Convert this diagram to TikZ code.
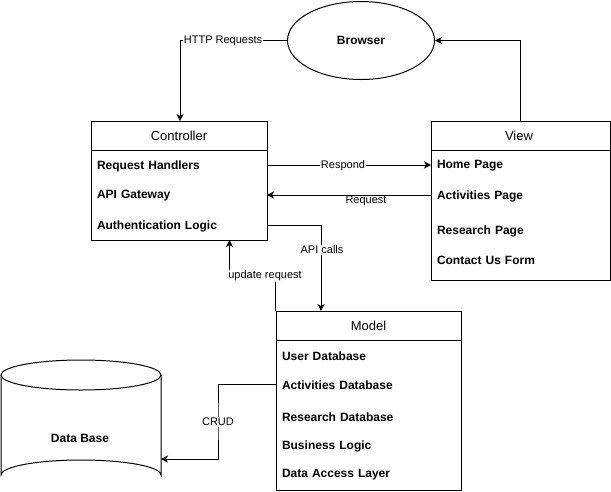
\documentclass[tikz,border=0pt]{standalone}
\usepackage{fontspec}
\setmainfont{Liberation Sans}
\usetikzlibrary{arrows.meta,shapes.geometric}
\tikzset{
  box/.style={draw, line width=1pt, inner sep=0pt, fill=white},
  hdr/.style={font=\fontsize{13}{15}\selectfont, inner sep=0pt},
  itm/.style={font=\bfseries\fontsize{12}{14}\selectfont, text width=#1, align=left, inner xsep=6pt, inner ysep=0pt},
  lbl/.style={font=\fontsize{11}{13}\selectfont, fill=white, inner sep=1pt},
  conn/.style={line width=1pt, -{Stealth[length=7pt,width=7pt,inset=2pt]}},
  sep/.style={line width=1pt},
}
\begin{document}
\begin{tikzpicture}[x=1pt,y=-1pt]
\useasboundingbox (0,0) rectangle (611,491);

% Browser
\node[draw, ellipse, line width=1pt, minimum width=147pt, minimum height=78pt, inner sep=0pt,
      font=\bfseries\fontsize{12}{14}\selectfont] (browser) at (361,40.5) {Browser};

% Controller
\node[box, minimum width=176pt, minimum height=119pt] (ctrl) at (179,180.5) {};
\draw[sep] (91,150) -- (267,150);
\node[hdr] (ctrlh) at (179,135.5) {Controller};
\node[itm=164pt] (rh) at (179,166) {Request Handlers};
\node[itm=164pt] (ag) at (179,196) {API Gateway};
\node[itm=164pt] (al) at (179,226) {Authentication Logic};

% View
\node[box, minimum width=179pt, minimum height=159pt] (view) at (520.5,200.5) {};
\draw[sep] (431,150) -- (610,150);
\node[hdr] (viewh) at (519,135.5) {View};
\node[itm=167pt] (hp) at (520.5,166) {Home Page};
\node[itm=167pt] (ap) at (520.5,196) {Activities Page};
\node[itm=167pt] (rp) at (520.5,231.5) {Research Page};
\node[itm=167pt] (cu) at (520.5,260.5) {Contact Us Form};

% Model
\node[box, minimum width=185pt, minimum height=179pt] (model) at (368.5,400.5) {};
\draw[sep] (276,340.5) -- (461,340.5);
\node[hdr] (modelh) at (368.5,326) {Model};
\node[itm=173pt] (ud) at (368.5,356) {User Database};
\node[itm=173pt] (adb) at (368.5,385.5) {Activities Database};
\node[itm=173pt] (rdb) at (368.5,417.5) {Research Database};
\node[itm=173pt] (bl) at (368.5,446) {Business Logic};
\node[itm=173pt] (dal) at (368.5,475) {Data Access Layer};

% Data Base cylinder
\fill[white] (1,375) -- (1,475) arc[start angle=180, end angle=360, x radius=80, y radius=15] -- (161,375) -- cycle;
\draw[line width=1pt] (1,375) -- (1,475) arc[start angle=180, end angle=360, x radius=80, y radius=15] -- (161,375);
\draw[line width=1pt, fill=white] (81,375) ellipse [x radius=80, y radius=15];
\node[font=\bfseries\fontsize{12}{14}\selectfont, inner sep=0pt] (db) at (80,438) {Data Base};

% Connectors
\coordinate (ctin) at (180,121);
\draw[conn] (browser.west) -| (ctin);
\node[lbl] (httplbl) at (223,41) {HTTP Requests};

\draw[conn] (view.north) |- (browser.east);

\coordinate (rhout) at (267,165);
\coordinate (hpin) at (431,165);
\draw[conn] (rhout) -- (hpin);
\node[lbl] (resplbl) at (343,165.5) {Respond};

\coordinate (apout) at (431,195);
\coordinate (agin) at (267,195);
\draw[conn] (apout) -- (agin);
\node[font=\fontsize{11}{13}\selectfont, inner sep=0pt] (reqlbl) at (366,200.5) {Request};

\coordinate (alout) at (267,225);
\coordinate (mtop) at (321,311);
\draw[conn] (alout) -| (mtop);
\node[lbl] (apilbl) at (322,250) {API calls};

\coordinate (cbot) at (229.5,240);
\draw[conn] (model.north west) -- ++(0,-35) -| (cbot);
\node[lbl] (updlbl) at (265,276) {update request};

\coordinate (adbout) at (276,384);
\coordinate (dbin) at (161,459);
\draw[conn] (adbout) -| (218,421) |- (dbin);
\node[lbl] (crudlbl) at (218,422) {CRUD};
\end{tikzpicture}
\end{document}
